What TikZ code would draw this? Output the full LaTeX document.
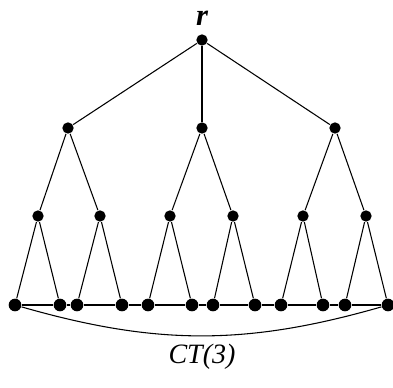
\documentclass[tikz,border=0pt]{standalone}
\usepackage{fontspec}
\setmainfont{Liberation Serif}

\begin{document}
\begin{tikzpicture}[x=0.75pt,y=-0.75pt,line width=0.8pt]
    \tikzset{
      vtx/.style={circle,fill=black,inner sep=0pt,minimum size=8.5pt},
      leaf/.style={vtx,minimum size=9.5pt}
    }
    \useasboundingbox (0,0) rectangle (393,388);
    % raiz y primeros niveles
    \node[vtx] (root) at (202,40) {};
    \node[font=\fontsize{23}{24}\selectfont\bfseries\itshape] (rlab) at (202,18) {r};
    \node[vtx] (a1) at (68,128) {};
    \node[vtx] (a2) at (202,128) {};
    \node[vtx] (a3) at (335,128) {};
    \foreach \i/\x in {1/38,2/100,3/170,4/233,5/303,6/366}
      \node[vtx] (b\i) at (\x,216) {};
    % hojas
    \foreach \i/\x in {1/15,2/60,3/77,4/122,5/148,6/192,7/213,8/255,9/281,10/323,11/345,12/388}
      \node[leaf] (l\i) at (\x,305) {};
    % aristas del arbol
    \foreach \j in {1,2,3}
      \draw (root) -- (a\j);
    \draw (a1) -- (b1) (a1) -- (b2);
    \draw (a2) -- (b3) (a2) -- (b4);
    \draw (a3) -- (b5) (a3) -- (b6);
    \foreach \i/\p/\q in {1/1/2,2/3/4,3/5/6,4/7/8,5/9/10,6/11/12}{
      \draw (b\i) -- (l\p);
      \draw (b\i) -- (l\q);
    }
    % ciclo de las hojas
    \foreach \i [evaluate=\i as \k using int(\i+1)] in {1,...,11}
      \draw (l\i) -- (l\k);
    \draw (l1) to[bend right=16] (l12);
    \node[font=\fontsize{21}{22}\selectfont\itshape] (ct) at (202,357) {CT(3)};
\end{tikzpicture}
\end{document}
